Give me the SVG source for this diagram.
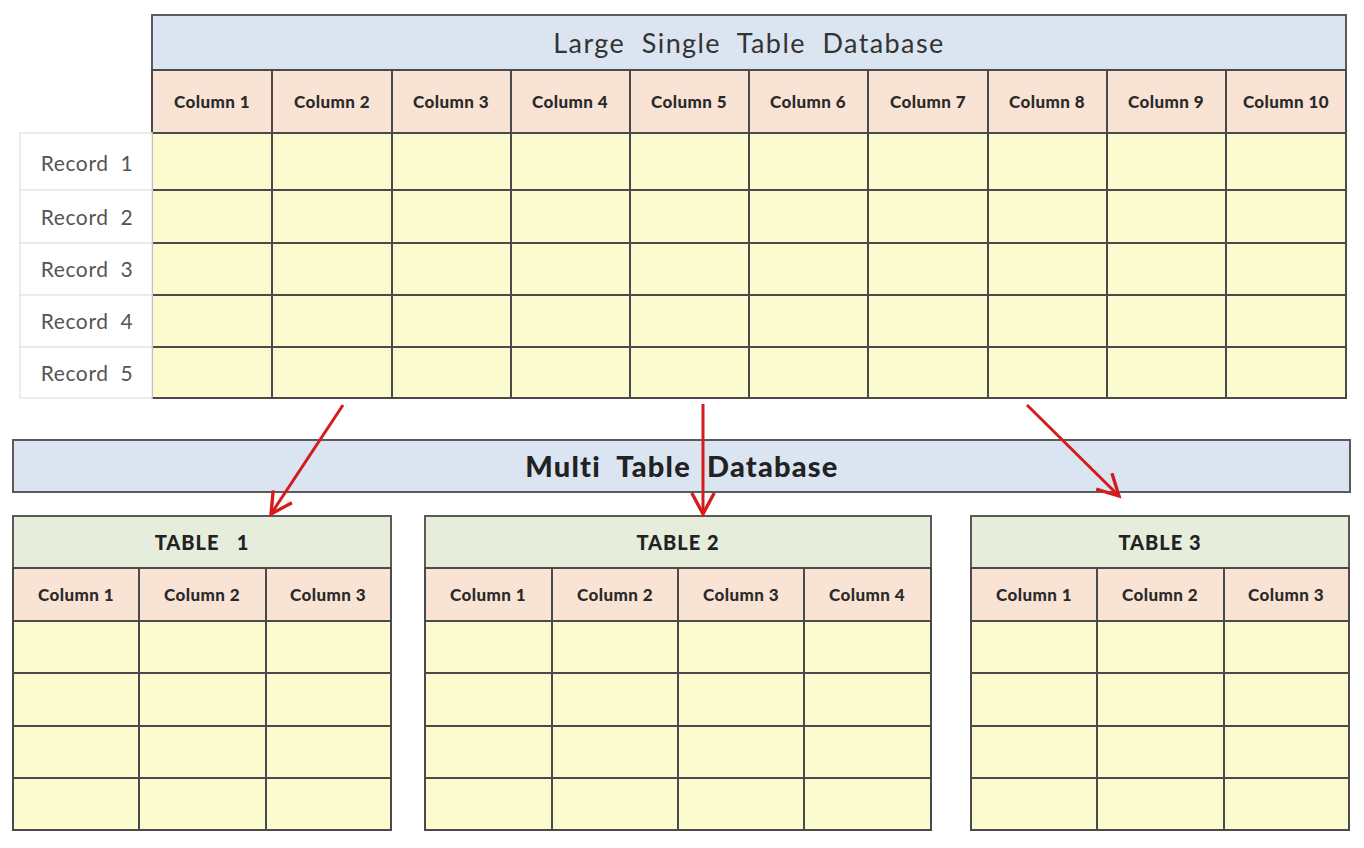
<svg xmlns="http://www.w3.org/2000/svg" width="1364" height="848" viewBox="0 0 1364 848">
<style>
text{white-space:pre}
.title{fill:#dbe4f1;stroke:#5a5a5a;stroke-width:2}
.hdr{fill:#f9e3d4;stroke:#4a4a4a;stroke-width:2}
.cell{fill:#fcfbcf;stroke:#4a4a4a;stroke-width:2}
.ttl{fill:#e6eedb;stroke:#5a5a5a;stroke-width:2}
.rec{fill:#ffffff;stroke:#e6e6e6;stroke-width:1.5}
.ht{font-family:Lato,"Open Sans",sans-serif;font-weight:900;font-size:17px;fill:#2a2a2a;text-anchor:middle;letter-spacing:0.4px}
.rt{font-family:Lato,"Liberation Sans",sans-serif;font-size:21px;fill:#555;text-anchor:middle;letter-spacing:0.6px}
.tt{font-family:Lato,"Liberation Sans",sans-serif;font-weight:900;font-size:20px;fill:#222;text-anchor:middle;letter-spacing:1px}
.arrow{stroke:#d41c1c;stroke-width:3;fill:none}
</style>
<defs>
<marker id="ah" viewBox="0 0 20 20" refX="17" refY="10" markerWidth="28" markerHeight="28" markerUnits="userSpaceOnUse" orient="auto">
<path d="M2,2 L17,10 L2,18" fill="none" stroke="#d41c1c" stroke-width="2.4"/>
</marker>
</defs>
<rect width="1364" height="848" fill="#ffffff"/>

<g id="large-table">
<rect class="title" x="152" y="15" width="1194" height="55"/>
<text x="749" y="53" font-family="Lato,'Liberation Sans',sans-serif" font-size="27" fill="#333" text-anchor="middle" letter-spacing="1.4">Large  Single  Table  Database</text>
<g id="large-header">
<rect class="hdr" x="152" y="70" width="120" height="63"/>
<rect class="hdr" x="272" y="70" width="120" height="63"/>
<rect class="hdr" x="392" y="70" width="119" height="63"/>
<rect class="hdr" x="511" y="70" width="119" height="63"/>
<rect class="hdr" x="630" y="70" width="119" height="63"/>
<rect class="hdr" x="749" y="70" width="119" height="63"/>
<rect class="hdr" x="868" y="70" width="120" height="63"/>
<rect class="hdr" x="988" y="70" width="119" height="63"/>
<rect class="hdr" x="1107" y="70" width="119" height="63"/>
<rect class="hdr" x="1226" y="70" width="120" height="63"/>
<text class="ht" x="212" y="108">Column 1</text>
<text class="ht" x="332" y="108">Column 2</text>
<text class="ht" x="451" y="108">Column 3</text>
<text class="ht" x="570" y="108">Column 4</text>
<text class="ht" x="689" y="108">Column 5</text>
<text class="ht" x="808" y="108">Column 6</text>
<text class="ht" x="928" y="108">Column 7</text>
<text class="ht" x="1047" y="108">Column 8</text>
<text class="ht" x="1166" y="108">Column 9</text>
<text class="ht" x="1286" y="108">Column 10</text>
</g>
<g id="large-body" fill="#fcfbcf" stroke="#4a4a4a" stroke-width="2">
<rect x="152" y="133" width="1194" height="265"/>
<path d="M152,190H1346M152,243H1346M152,295H1346M152,347H1346M272,133V398M392,133V398M511,133V398M630,133V398M749,133V398M868,133V398M988,133V398M1107,133V398M1226,133V398" fill="none"/>
</g>
<g id="records">
<rect class="rec" x="20" y="133" width="132" height="57"/>
<rect class="rec" x="20" y="190" width="132" height="53"/>
<rect class="rec" x="20" y="243" width="132" height="52"/>
<rect class="rec" x="20" y="295" width="132" height="52"/>
<rect class="rec" x="20" y="347" width="132" height="51"/>
<text class="rt" x="87" y="171">Record  1</text>
<text class="rt" x="87" y="225">Record  2</text>
<text class="rt" x="87" y="277">Record  3</text>
<text class="rt" x="87" y="329">Record  4</text>
<text class="rt" x="87" y="381">Record  5</text>
</g>
</g>

<g id="multi-title">
<rect class="title" x="13" y="440" width="1337" height="52"/>
<text x="682" y="477" font-family="Lato,'Liberation Sans',sans-serif" font-weight="900" font-size="29" fill="#222" text-anchor="middle" letter-spacing="1.2">Multi  Table  Database</text>
</g>

<g id="table1">
<rect class="ttl" x="13" y="516" width="378" height="52"/>
<text class="tt" x="202" y="550">TABLE   1</text>
<rect class="hdr" x="13" y="568" width="126" height="53"/>
<rect class="hdr" x="139" y="568" width="127" height="53"/>
<rect class="hdr" x="266" y="568" width="125" height="53"/>
<text class="ht" x="76" y="601">Column 1</text>
<text class="ht" x="202" y="601">Column 2</text>
<text class="ht" x="328" y="601">Column 3</text>
<rect class="cell" x="13" y="621" width="378" height="209"/>
<path d="M13,673H391M13,726H391M13,778H391M139,621V830M266,621V830" stroke="#4a4a4a" stroke-width="2" fill="none"/>
</g>

<g id="table2">
<rect class="ttl" x="425" y="516" width="506" height="52"/>
<text class="tt" x="678" y="550">TABLE 2</text>
<rect class="hdr" x="425" y="568" width="127" height="53"/>
<rect class="hdr" x="552" y="568" width="126" height="53"/>
<rect class="hdr" x="678" y="568" width="126" height="53"/>
<rect class="hdr" x="804" y="568" width="127" height="53"/>
<text class="ht" x="488" y="601">Column 1</text>
<text class="ht" x="615" y="601">Column 2</text>
<text class="ht" x="741" y="601">Column 3</text>
<text class="ht" x="867" y="601">Column 4</text>
<rect class="cell" x="425" y="621" width="506" height="209"/>
<path d="M425,673H931M425,726H931M425,778H931M552,621V830M678,621V830M804,621V830" stroke="#4a4a4a" stroke-width="2" fill="none"/>
</g>

<g id="table3">
<rect class="ttl" x="971" y="516" width="378" height="52"/>
<text class="tt" x="1160" y="550">TABLE 3</text>
<rect class="hdr" x="971" y="568" width="126" height="53"/>
<rect class="hdr" x="1097" y="568" width="127" height="53"/>
<rect class="hdr" x="1224" y="568" width="125" height="53"/>
<text class="ht" x="1034" y="601">Column 1</text>
<text class="ht" x="1160" y="601">Column 2</text>
<text class="ht" x="1286" y="601">Column 3</text>
<rect class="cell" x="971" y="621" width="378" height="209"/>
<path d="M971,673H1349M971,726H1349M971,778H1349M1097,621V830M1224,621V830" stroke="#4a4a4a" stroke-width="2" fill="none"/>
</g>

<g id="connectors">
<line class="arrow" x1="343" y1="405" x2="271" y2="514" marker-end="url(#ah)"/>
<line class="arrow" x1="703" y1="404" x2="703" y2="514" marker-end="url(#ah)"/>
<line class="arrow" x1="1027" y1="405" x2="1119" y2="496" marker-end="url(#ah)"/>
</g>
</svg>
